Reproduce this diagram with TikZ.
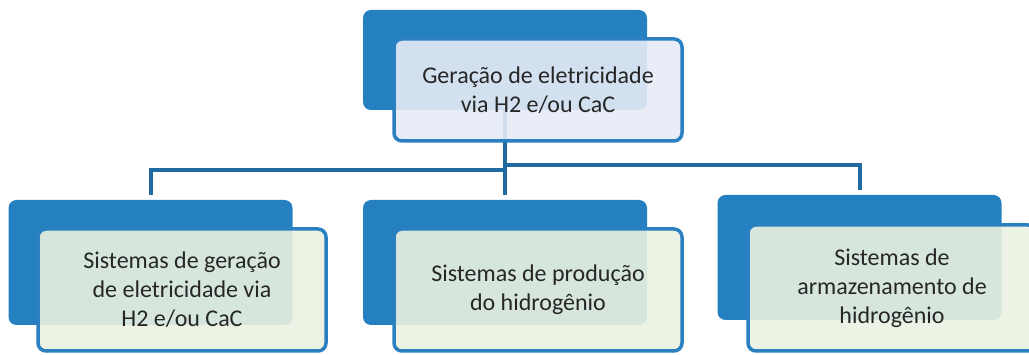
\documentclass[tikz,border=0pt]{standalone}
\usepackage{fontspec}
\setmainfont{Carlito}
\usepackage{xcolor}
\usepackage{tikz}
\usetikzlibrary{backgrounds}

\definecolor{backblue}{HTML}{2580C1}
\definecolor{edgeblue}{HTML}{2A80C0}
\definecolor{linkblue}{HTML}{1F6B9F}
\definecolor{topfill}{HTML}{E7EBF6}
\definecolor{subfill}{HTML}{EBF2E1}
\definecolor{txt}{HTML}{262626}

\begin{document}
\begin{tikzpicture}[
    x=1pt, y=-1pt,
    font=\fontsize{24}{29}\selectfont,
    back/.style={fill=backblue, rounded corners=8pt, minimum width=284pt,
      inner sep=0pt},
    front/.style={draw=edgeblue, line width=3.5pt, rounded corners=8pt,
      minimum width=288pt, align=center, text=txt, inner sep=0pt,
      fill opacity=0.9, text opacity=1},
    link/.style={draw=linkblue, line width=4pt},
  ]
    \useasboundingbox (0,0) rectangle (1029,355);
    % Top: main theme
    \node[back, minimum height=100pt] (topback) at (505,60) {};
    \node[front, fill=topfill, minimum height=102pt] (top) at (538,90)
      {Geração de eletricidade\\via H2 e/ou CaC};
    % Bottom row: subsystems
    \node[back, minimum height=125pt] (leftback) at (150.5,262.5) {};
    \node[front, fill=subfill, minimum height=122pt] (left) at (182,290)
      {Sistemas de geração\\de eletricidade via\\H2 e/ou CaC};
    \node[back, minimum height=125pt] (midback) at (505,262.5) {};
    \node[front, fill=subfill, minimum height=122pt] (mid) at (538,290)
      {Sistemas de produção\\do hidrogênio};
    \node[back, minimum height=125pt] (rightback) at (859.5,257.5) {};
    \node[front, fill=subfill, minimum height=126pt] (right) at (892,288)
      {Sistemas de\\armazenamento de\\hidrogênio};
    % Connectors (behind the boxes)
    \coordinate (busL) at (505,170);
    \coordinate (busR) at (505,165);
    \begin{pgfonlayer}{background}
      \draw[link, shorten >=5pt] (topback) -- (busL) -| (leftback);
      \draw[link, shorten >=5pt] (topback) -- (midback);
      \draw[link, shorten >=5pt] (busR) -| (rightback);
    \end{pgfonlayer}
  \end{tikzpicture}
\end{document}
